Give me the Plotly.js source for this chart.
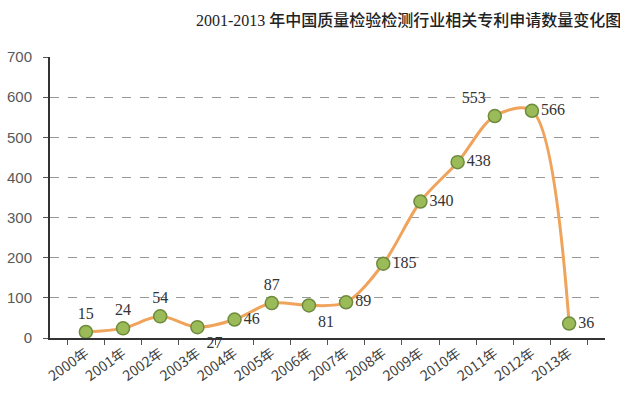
<!DOCTYPE html>
<html><head><meta charset="utf-8">
<script src="https://cdn.plot.ly/plotly-3.0.1.min.js"></script>
<style>html,body{margin:0;padding:0;background:#fff}#c{width:620px;height:399px}</style>
</head><body><div id="c"></div>
<script>
var categories = ["2000年","2001年","2002年","2003年","2004年","2005年","2006年","2007年","2008年","2009年","2010年","2011年","2012年","2013年"];
var values = [15,24,54,27,46,87,81,89,185,340,438,553,566,36];
var labelPositions = ["top center","top center","top center","bottom right","middle right","top center","bottom right","middle right","middle right","middle right","middle right","top left","middle right","middle right"];
var yTicks = [0,100,200,300,400,500,600,700];
var titleText = "2001-2013 年中国质量检验检测行业相关专利申请数量变化图";

var trace = {
  x: categories, y: values, type: "scatter", mode: "lines+markers+text",
  line: {color: "#F0A35A", width: 3, shape: "spline", smoothing: 0.9},
  marker: {size: 13, color: "#9BBB59", line: {color: "#6E8B3D", width: 1.5}},
  text: values.map(String), textposition: labelPositions,
  textfont: {family: "Liberation Serif, serif", size: 16, color: "#333"},
  cliponaxis: false, hoverinfo: "none"
};
var layout = {
  width: 620, height: 399,
  margin: {l: 50, r: 15, t: 57, b: 61},
  paper_bgcolor: "#fff", plot_bgcolor: "#fff",
  showlegend: false,
  title: {text: titleText, x: 163/620, xanchor: "left", xref: "paper", y: 1-20/399, yanchor: "middle",
          font: {family: "Liberation Serif, Noto Sans CJK SC, serif", size: 16, color: "#222", weight: 500}},
  xaxis: {type: "category", showline: true, linecolor: "#333", linewidth: 2,
          ticks: "outside", tickson: "boundaries", ticklen: 5, tickcolor: "#555",
          showgrid: false, tickangle: -35,
          tickfont: {family: "Noto Sans CJK SC, sans-serif", size: 14, color: "#404040"}},
  yaxis: {range: [0, 700], tickvals: yTicks, showline: true, linecolor: "#333", linewidth: 2,
          ticks: "outside", ticklen: 5, tickcolor: "#555", ticklabelstandoff: 8,
          showgrid: true, gridcolor: "#999", griddash: "dash", gridwidth: 1,
          zeroline: false,
          tickfont: {family: "Liberation Sans, sans-serif", size: 15, color: "#595959"}}
};
Plotly.newPlot("c", [trace], layout, {staticPlot: true});
</script></body></html>
